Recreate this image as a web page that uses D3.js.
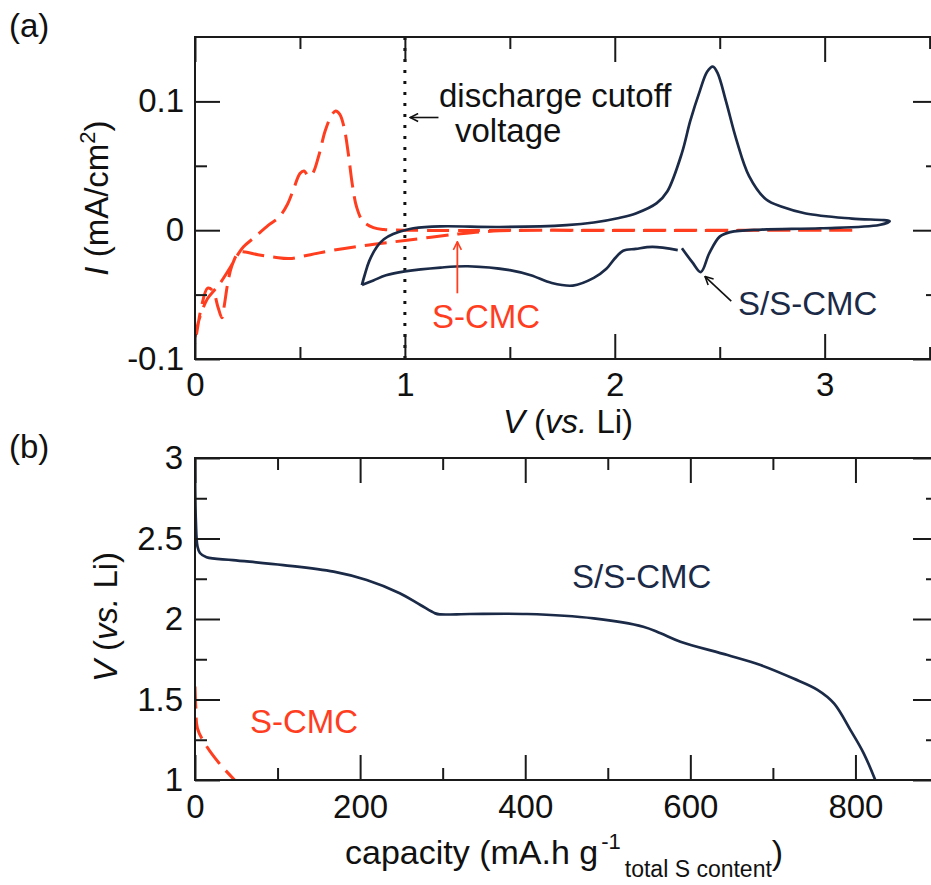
<!DOCTYPE html>
<html>
<head>
<meta charset="utf-8">
<script src="https://cdn.jsdelivr.net/npm/d3@7"></script>
<style>
  body { margin: 0; background: #fff; }
  svg { display: block; font-family: "Liberation Sans", Arial, Helvetica, sans-serif; }
</style>
</head>
<body>
<script>
const W = 931, H = 885;
const navy = "#1b2a47";
const red = "#ff3d1f";

// (a) cyclic voltammetry, S/S-CMC (solid), one loop: anodic then cathodic
const ssV = [0.795, 0.81, 0.83, 0.866, 0.90, 0.944, 1.0, 1.04, 1.17, 1.45, 1.77, 1.9, 2.02, 2.1, 2.2, 2.25, 2.32, 2.36, 2.405, 2.44, 2.467, 2.49, 2.53, 2.58, 2.64, 2.72, 2.8, 2.91, 3.13, 3.31,
  3.26, 2.98, 2.7, 2.55, 2.5, 2.45, 2.41, 2.37, 2.32, null, 2.30, 2.18, 2.1, 2.04, 2.0, 1.96, 1.9, 1.8, 1.7, 1.6, 1.5, 1.3, 1.17, 1.0, 0.91, 0.85, 0.795];
const ssI = [-0.0426, -0.034, -0.024, -0.013, -0.007, -0.003, 0.0, 0.0015, 0.003, 0.0025, 0.004, 0.006, 0.0095, 0.013, 0.021, 0.03, 0.060, 0.085, 0.108, 0.123, 0.127, 0.122, 0.10, 0.07, 0.042, 0.024, 0.018, 0.013, 0.009, 0.007,
  0.004, 0.0015, 0.0005, -0.0015, -0.005, -0.018, -0.0325, -0.025, -0.014, null, -0.0155, -0.013, -0.0145, -0.016, -0.022, -0.03, -0.037, -0.043, -0.041, -0.035, -0.031, -0.028, -0.029, -0.032, -0.035, -0.039, -0.0426];

// (a) S-CMC (dashed)
const scV = [0, 0.015, 0.035, 0.06, 0.09, 0.12, 0.16, 0.2, 0.23, 0.28, 0.35, 0.40, 0.44, 0.47, 0.50, 0.52, 0.54, 0.56, 0.59, 0.62, 0.65, 0.67, 0.69, 0.71, 0.73, 0.75, 0.77, 0.80, 0.85, 0.9, 1.0, 2.0, 3.15,
  2.0, 1.45, 1.25, 1.0, 0.8, 0.66, 0.55, 0.45, 0.38, 0.30, 0.24, 0.21, 0.175, 0.155, 0.14, 0.128, 0.11, 0.085, 0.06, 0.03, 0.012, 0];
const scI = [-0.083, -0.072, -0.062, -0.053, -0.047, -0.041, -0.031, -0.02, -0.013, -0.006, 0.004, 0.01, 0.02, 0.032, 0.044, 0.046, 0.042, 0.044, 0.058, 0.077, 0.089, 0.0925, 0.09, 0.08, 0.06, 0.035, 0.018, 0.007, 0.002, 0.0005, 0.0, 0.0, 0.0,
  -0.0003, -0.0005, -0.003, -0.008, -0.012, -0.0155, -0.019, -0.022, -0.021, -0.019, -0.017, -0.017, -0.028, -0.042, -0.058, -0.068, -0.06, -0.047, -0.045, -0.06, -0.076, -0.088];

// (b) discharge curves
const ssCap = [0, 1, 3, 6, 14, 46, 107, 168, 208, 248, 273, 291, 297, 333, 402, 483, 543, 564, 588, 645, 685, 725, 754, 774, 794, 810, 824];
const ssVolt = [2.99, 2.615, 2.45, 2.41, 2.383, 2.366, 2.335, 2.294, 2.242, 2.16, 2.087, 2.035, 2.029, 2.031, 2.031, 2.004, 1.952, 1.911, 1.859, 1.776, 1.714, 1.63, 1.56, 1.476, 1.31, 1.166, 1.0];
const scCap = [0, 1, 3, 14, 30, 48];
const scVolt = [1.58, 1.45, 1.32, 1.21, 1.10, 1.0];

// ticks
const aXMajor = [0, 1, 2, 3], aXMinor = [0.5, 1.5, 2.5, 3.5];
const aYMajor = [-0.1, 0, 0.1], aYMinor = [-0.05, 0.05];
const bXMajor = [0, 200, 400, 600, 800], bXMinor = [100, 300, 500, 700, 900];
const bYMajor = [1, 1.5, 2, 2.5, 3], bYMinor = [1.25, 1.75, 2.25, 2.75];

const svg = d3.select("body").append("svg").attr("width", W).attr("height", H);

const xA = d3.scaleLinear().domain([0, 3.54]).range([195, 938]);
const yA = d3.scaleLinear().domain([-0.1, 0.15]).range([359, 37]);
const xB = d3.scaleLinear().domain([0, 900]).range([195, 938]);
const yB = d3.scaleLinear().domain([1, 3]).range([780, 458]);

const fmt = d => String(d);

function frame(x, y, xMaj, xMin, yMaj, yMin, padX, padY) {
  const [x0, x1] = x.range(), [y0, y1] = y.range();
  const g = svg.append("g");
  const styl = s => {
    s.select(".domain").remove();
    s.selectAll("line").attr("stroke", "#1a1a1a").attr("stroke-width", 2);
    s.selectAll("text").attr("font-size", 33).attr("fill", "#111").attr("font-family", "Liberation Sans, Arial, sans-serif");
  };
  g.append("g").attr("transform", `translate(0,${y0})`)
    .call(d3.axisBottom(x).tickValues(xMaj).tickSizeInner(-25).tickSizeOuter(0).tickPadding(padX).tickFormat(fmt)).call(styl);
  g.append("g").attr("transform", `translate(0,${y0})`)
    .call(d3.axisBottom(x).tickValues(xMin).tickSizeInner(-12).tickSizeOuter(0).tickFormat("")).call(styl);
  g.append("g").attr("transform", `translate(0,${y1})`)
    .call(d3.axisTop(x).tickValues(xMaj).tickSizeInner(-25).tickSizeOuter(0).tickFormat("")).call(styl);
  g.append("g").attr("transform", `translate(0,${y1})`)
    .call(d3.axisTop(x).tickValues(xMin).tickSizeInner(-12).tickSizeOuter(0).tickFormat("")).call(styl);
  g.append("g").attr("transform", `translate(${x0},0)`)
    .call(d3.axisLeft(y).tickValues(yMaj).tickSizeInner(-25).tickSizeOuter(0).tickPadding(padY).tickFormat(fmt)).call(styl);
  g.append("g").attr("transform", `translate(${x0},0)`)
    .call(d3.axisLeft(y).tickValues(yMin).tickSizeInner(-12).tickSizeOuter(0).tickFormat("")).call(styl);
  g.append("g").attr("transform", `translate(${x1},0)`)
    .call(d3.axisRight(y).tickValues(yMaj).tickSizeInner(-25).tickSizeOuter(0).tickFormat("")).call(styl);
  g.append("g").attr("transform", `translate(${x1},0)`)
    .call(d3.axisRight(y).tickValues(yMin).tickSizeInner(-12).tickSizeOuter(0).tickFormat("")).call(styl);
  g.append("rect").attr("x", x0).attr("y", y1).attr("width", x1 - x0).attr("height", y0 - y1)
    .attr("fill", "none").attr("stroke", "#1a1a1a").attr("stroke-width", 2);
}

// clip paths
const defs = svg.append("defs");
defs.append("clipPath").attr("id", "clipA").append("rect")
  .attr("x", 195).attr("y", 37).attr("width", 743).attr("height", 322);
defs.append("clipPath").attr("id", "clipB").append("rect")
  .attr("x", 195).attr("y", 458).attr("width", 743).attr("height", 322);
function marker(id, color) {
  defs.append("marker").attr("id", id).attr("viewBox", "0 0 10 10").attr("refX", 9).attr("refY", 5)
    .attr("markerWidth", 10).attr("markerHeight", 10).attr("markerUnits", "userSpaceOnUse").attr("orient", "auto")
    .append("path").attr("d", "M1,1 L9,5 L1,9").attr("fill", "none").attr("stroke", color).attr("stroke-width", 1.6);
}
marker("arrK", "#111");
marker("arrR", red);

// ---- panel (a)
const gA = svg.append("g").attr("clip-path", "url(#clipA)");
// cutoff line
gA.append("line").attr("x1", xA(1)).attr("x2", xA(1)).attr("y1", yA.range()[1]).attr("y2", yA.range()[0])
  .attr("stroke", "#111").attr("stroke-width", 3).attr("stroke-dasharray", "3 8");

const lineA = d3.line().defined(d => d[0] != null).x(d => xA(d[0])).y(d => yA(d[1])).curve(d3.curveCatmullRom.alpha(0.5));
gA.append("path").datum(scV.map((v, i) => [v, scI[i]])).attr("d", lineA)
  .attr("fill", "none").attr("stroke", red).attr("stroke-width", 3).attr("stroke-dasharray", "22 9");
gA.append("path").datum(ssV.map((v, i) => [v, ssI[i]])).attr("d", lineA)
  .attr("fill", "none").attr("stroke", navy).attr("stroke-width", 2.7).attr("stroke-linejoin", "round");

frame(xA, yA, aXMajor, aXMinor, aYMajor, aYMinor, 14, 11);

// annotations (a)
const txt = (x, y, s, color, size) => svg.append("text").attr("x", x).attr("y", y).attr("fill", color || "#111")
  .attr("font-size", size || 33).text(s);
txt(439, 107, "discharge cutoff");
txt(455, 142, "voltage");
svg.append("line").attr("x1", xA(1.16)).attr("y1", yA(0.0875)).attr("x2", xA(1.025)).attr("y2", yA(0.0875))
  .attr("stroke", "#111").attr("stroke-width", 1.6).attr("marker-end", "url(#arrK)");
txt(432, 328, "S-CMC", red);
svg.append("line").attr("x1", xA(1.25)).attr("y1", yA(-0.049)).attr("x2", xA(1.25)).attr("y2", yA(-0.009))
  .attr("stroke", red).attr("stroke-width", 1.8).attr("marker-end", "url(#arrR)");
txt(738, 315, "S/S-CMC", navy);
svg.append("line").attr("x1", xA(2.555)).attr("y1", yA(-0.055)).attr("x2", xA(2.43)).attr("y2", yA(-0.036))
  .attr("stroke", "#111").attr("stroke-width", 1.6).attr("marker-end", "url(#arrK)");

txt(9, 37, "(a)", "#111", 33);

// axis labels (a)
const xlA = svg.append("text").attr("x", 568).attr("y", 433).attr("text-anchor", "middle").attr("font-size", 33).attr("fill", "#111");
xlA.append("tspan").attr("font-style", "italic").text("V");
xlA.append("tspan").text(" (");
xlA.append("tspan").attr("font-style", "italic").text("vs.");
xlA.append("tspan").text(" Li)");

const ylA = svg.append("text").attr("transform", "translate(108,198) rotate(-90)").attr("text-anchor", "middle")
  .attr("font-size", 33).attr("fill", "#111");
ylA.append("tspan").attr("font-style", "italic").text("I");
ylA.append("tspan").text(" (mA/cm");
ylA.append("tspan").attr("font-size", 22).attr("dy", -13).text("2");
ylA.append("tspan").attr("dy", 13).text(")");

// ---- panel (b)
const gB = svg.append("g").attr("clip-path", "url(#clipB)");
const lineB = d3.line().x(d => xB(d[0])).y(d => yB(d[1])).curve(d3.curveCatmullRom.alpha(0.5));
gB.append("path").datum(scCap.map((c, i) => [c, scVolt[i]])).attr("d", lineB)
  .attr("fill", "none").attr("stroke", red).attr("stroke-width", 3).attr("stroke-dasharray", "22 9");
gB.append("path").datum(ssCap.map((c, i) => [c, ssVolt[i]])).attr("d", lineB)
  .attr("fill", "none").attr("stroke", navy).attr("stroke-width", 2.7);

frame(xB, yB, bXMajor, bXMinor, bYMajor, bYMinor, 15, 12);

txt(572, 588, "S/S-CMC", navy);
txt(250, 733, "S-CMC", red);
txt(9, 458, "(b)", "#111", 33);

const xlB = svg.append("text").attr("x", 345).attr("y", 864).attr("font-size", 34).attr("fill", "#111");
xlB.append("tspan").text("capacity (mA.h g");
xlB.append("tspan").attr("font-size", 22).attr("dx", 3).attr("dy", -15).text("-1");
xlB.append("tspan").attr("font-size", 23).attr("dx", 4).attr("dy", 28).text("total S content");
xlB.append("tspan").attr("dy", -13).text(")");

const ylB = svg.append("text").attr("transform", "translate(117,617) rotate(-90)").attr("text-anchor", "middle")
  .attr("font-size", 33).attr("fill", "#111");
ylB.append("tspan").attr("font-style", "italic").text("V");
ylB.append("tspan").text(" (");
ylB.append("tspan").attr("font-style", "italic").text("vs.");
ylB.append("tspan").text(" Li)");
</script>
</body>
</html>
